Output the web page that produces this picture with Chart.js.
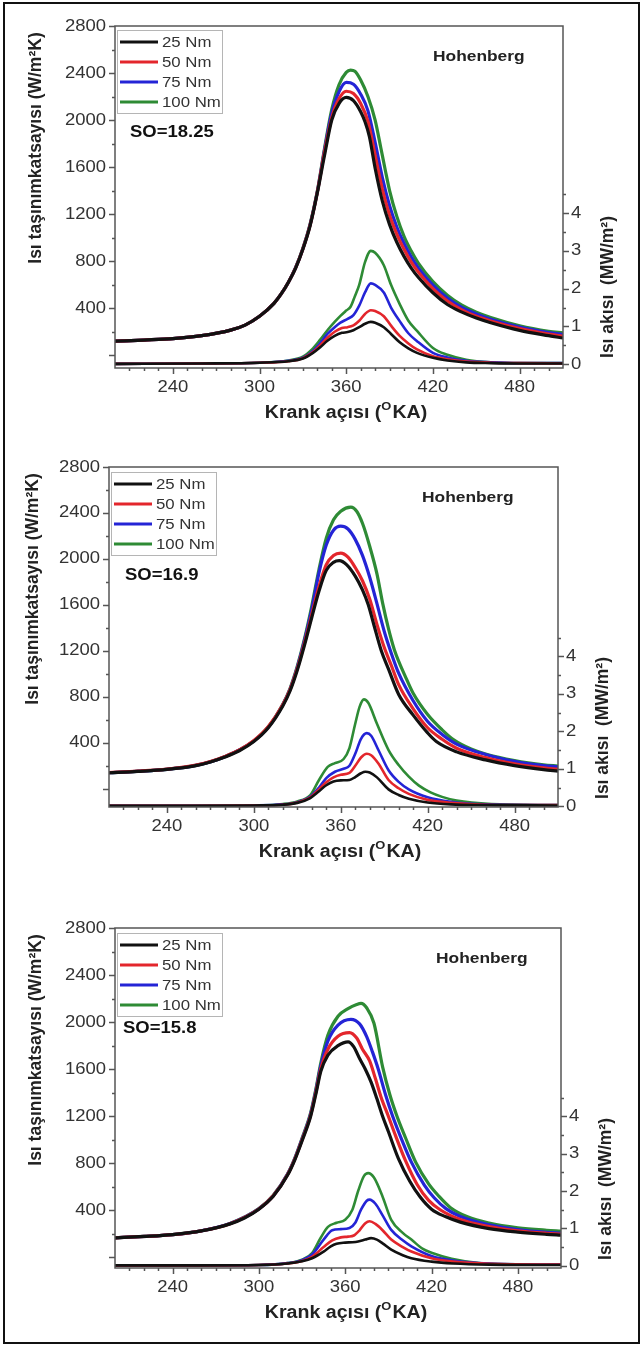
<!DOCTYPE html>
<html>
<head>
<meta charset="utf-8">
<script src="https://cdn.jsdelivr.net/npm/chart.js@4.4.0/dist/chart.umd.min.js"></script>
<style>
  body { margin: 0; background: #fff; }
  #page { position: relative; width: 642px; height: 1346px; }
  #frame { position: absolute; left: 3px; top: 2px; width: 633px; height: 1338px; border: 2px solid #111; }
  canvas { position: absolute; left: 0; }
</style>
</head>
<body>
<div id="page">
  <div id="frame"></div>
  <canvas id="c1" width="642" height="440" style="top:0px"></canvas>
  <canvas id="c2" width="642" height="440" style="top:440px"></canvas>
  <canvas id="c3" width="642" height="466" style="top:880px"></canvas>
</div>
<script>
// ---- data ----
const loads = ["25 Nm", "50 Nm", "75 Nm", "100 Nm"];
const colors = ["#111111", "#e3262c", "#2424d6", "#2e8b35"];
const xTicks = [240, 300, 360, 420, 480];
const leftTicks = [400, 800, 1200, 1600, 2000, 2400, 2800];
const rightTicks = [0, 1, 2, 3, 4];
const soLabels = ["SO=18.25", "SO=16.9", "SO=15.8"];

// SO=18.25 : heat transfer coefficient (W/m2K)
const h1_25 = [[200,118],[220,128],[240,140],[260,165],[280,212],[290,255],[300,330],[310,440],[315,520],[320,620],[325,740],[330,900],[335,1100],[340,1380],[345,1700],[350,2000],[355,2140],[360,2192],[365,2165],[370,2070],[373,1985],[376,1860],[380,1590],[385,1310],[390,1110],[395,960],[400,840],[405,740],[410,660],[420,530],[430,430],[440,365],[450,315],[460,275],[480,210],[500,165],[510,145]];
const h1_50 = [[200,118],[220,128],[240,140],[260,165],[280,212],[290,255],[300,330],[310,440],[315,520],[320,620],[325,742],[330,902],[335,1105],[340,1385],[345,1730],[350,2020],[355,2180],[360,2245],[365,2225],[370,2140],[375,1990],[380,1700],[385,1410],[390,1190],[395,1030],[400,900],[405,790],[410,705],[420,565],[430,460],[440,385],[450,330],[460,290],[480,225],[500,178],[510,160]];
const h1_75 = [[200,118],[220,128],[240,140],[260,165],[280,212],[290,255],[300,330],[310,440],[315,520],[320,620],[325,744],[330,905],[335,1110],[340,1390],[345,1745],[350,2060],[355,2240],[360,2320],[365,2305],[370,2220],[375,2080],[380,1810],[385,1510],[390,1270],[395,1090],[400,950],[405,835],[410,740],[420,595],[430,485],[440,405],[450,350],[460,305],[480,238],[500,192],[510,175]];
const h1_100 = [[200,118],[220,128],[240,140],[260,165],[280,212],[290,255],[300,330],[310,440],[315,520],[320,620],[325,746],[330,908],[335,1115],[340,1395],[345,1760],[350,2090],[355,2300],[360,2405],[363,2425],[366,2415],[370,2340],[375,2200],[380,2000],[384,1760],[387,1575],[390,1400],[395,1180],[400,1010],[405,885],[410,780],[420,625],[430,510],[440,425],[450,365],[460,320],[480,250],[500,203],[510,188]];
// SO=18.25 : heat flux (MW/m2)
const f1_25 = [[200,0.01],[260,0.02],[300,0.04],[320,0.08],[330,0.15],[337,0.3],[342,0.45],[347,0.62],[352,0.75],[357,0.83],[361,0.85],[365,0.9],[369,0.98],[373,1.07],[377,1.12],[380,1.1],[386,0.98],[391,0.8],[397,0.58],[403,0.42],[409,0.3],[420,0.17],[430,0.1],[443,0.05],[460,0.03],[480,0.02],[510,0.02]];
const f1_50 = [[200,0.01],[260,0.02],[300,0.04],[320,0.08],[330,0.16],[337,0.32],[342,0.5],[347,0.7],[352,0.86],[357,0.96],[361,0.98],[365,1.03],[369,1.15],[373,1.33],[377,1.43],[380,1.41],[386,1.27],[391,1.02],[397,0.75],[403,0.55],[409,0.39],[420,0.21],[430,0.13],[443,0.07],[460,0.04],[480,0.03],[510,0.02]];
const f1_75 = [[200,0.01],[260,0.02],[300,0.04],[320,0.09],[330,0.17],[337,0.35],[342,0.56],[347,0.8],[352,0.98],[356,1.1],[361,1.2],[365,1.3],[369,1.55],[373,1.9],[377,2.14],[380,2.1],[386,1.9],[391,1.5],[397,1.14],[403,0.82],[409,0.61],[420,0.3],[430,0.18],[443,0.09],[460,0.05],[480,0.03],[510,0.03]];
const f1_100 = [[200,0.01],[260,0.02],[300,0.04],[320,0.1],[330,0.2],[337,0.42],[342,0.65],[347,0.9],[352,1.12],[356,1.28],[360,1.42],[363,1.52],[366,1.8],[369,2.1],[373,2.7],[377,3.0],[380,2.95],[386,2.62],[391,2.1],[397,1.59],[403,1.15],[409,0.88],[420,0.43],[430,0.25],[443,0.12],[460,0.05],[480,0.03],[510,0.03]];

// SO=16.9
const h2_25 = [[200,138],[220,150],[240,167],[260,200],[270,232],[280,275],[290,330],[300,410],[310,530],[320,720],[325,850],[330,1030],[335,1250],[340,1490],[345,1720],[350,1900],[355,1970],[359,1985],[364,1950],[370,1850],[375,1730],[379,1600],[383,1420],[388,1200],[393,1040],[400,820],[410,640],[420,485],[426,410],[440,320],[460,250],[480,200],[500,165],[510,153]];
const h2_50 = [[200,140],[220,152],[240,170],[260,204],[270,236],[280,280],[290,336],[300,418],[310,540],[320,730],[325,862],[330,1045],[335,1270],[340,1515],[345,1760],[350,1950],[355,2030],[360,2050],[365,2015],[370,1925],[375,1810],[380,1650],[385,1430],[390,1230],[395,1070],[400,905],[410,695],[420,530],[430,430],[440,352],[460,270],[480,215],[500,180],[510,168]];
const h2_75 = [[200,138],[240,168],[260,202],[280,278],[300,415],[310,535],[320,730],[325,865],[330,1055],[335,1290],[340,1560],[345,1880],[350,2120],[355,2250],[360,2285],[365,2260],[370,2170],[375,2030],[380,1840],[385,1610],[390,1370],[395,1175],[400,1005],[410,765],[420,585],[430,472],[440,388],[460,297],[480,237],[500,200],[510,190]];
const h2_100 = [[200,138],[240,168],[260,202],[280,278],[300,415],[310,538],[320,735],[325,872],[330,1065],[335,1305],[340,1590],[345,1910],[350,2180],[355,2340],[360,2415],[367,2450],[371,2415],[375,2310],[380,2110],[385,1870],[389,1610],[393,1390],[397,1210],[405,965],[410,830],[420,645],[430,512],[438,425],[450,345],[460,302],[480,245],[500,208],[510,197]];
const f2_25 = [[200,0.01],[260,0.01],[300,0.02],[320,0.04],[330,0.09],[339,0.22],[345,0.4],[350,0.56],[355,0.66],[360,0.69],[366,0.7],[370,0.78],[374,0.88],[377,0.92],[380,0.9],[385,0.77],[393,0.45],[400,0.3],[407,0.2],[420,0.1],[436,0.05],[460,0.03],[510,0.02]];
const f2_50 = [[200,0.01],[260,0.01],[300,0.02],[320,0.04],[330,0.1],[339,0.24],[345,0.45],[350,0.64],[355,0.77],[360,0.84],[366,0.89],[370,1.08],[374,1.3],[378,1.4],[381,1.36],[386,1.14],[393,0.7],[400,0.48],[407,0.33],[420,0.17],[436,0.09],[460,0.04],[510,0.03]];
const f2_75 = [[200,0.01],[260,0.01],[300,0.02],[320,0.05],[330,0.11],[339,0.26],[345,0.5],[350,0.75],[356,0.92],[362,1.0],[366,1.08],[370,1.4],[374,1.8],[378,1.95],[381,1.88],[386,1.5],[393,0.96],[400,0.65],[407,0.45],[420,0.24],[436,0.12],[460,0.05],[510,0.03]];
const f2_100 = [[200,0.01],[260,0.01],[300,0.02],[320,0.06],[330,0.13],[339,0.3],[345,0.7],[351,1.05],[356,1.15],[362,1.26],[366,1.55],[370,2.2],[373,2.65],[376,2.85],[379,2.76],[385,2.2],[393,1.5],[400,1.1],[407,0.79],[414,0.55],[422,0.37],[430,0.25],[440,0.15],[464,0.06],[510,0.03]];

// SO=15.8
const h3_25 = [[200,166],[220,178],[240,194],[260,225],[280,285],[290,335],[300,410],[310,520],[320,700],[325,830],[330,990],[336,1200],[340,1410],[343,1580],[348,1720],[355,1800],[362,1832],[366,1790],[370,1690],[374,1600],[378,1490],[382,1350],[386,1200],[390,1070],[397,840],[405,645],[412,515],[420,410],[430,345],[440,300],[460,245],[480,215],[500,196],[510,189]];
const h3_50 = [[200,166],[240,194],[260,226],[280,287],[300,412],[310,523],[320,705],[325,836],[330,998],[336,1210],[340,1425],[343,1600],[348,1770],[355,1880],[363,1911],[368,1865],[372,1770],[377,1670],[381,1520],[385,1360],[390,1200],[395,1035],[402,820],[410,620],[418,485],[426,405],[440,322],[460,262],[480,226],[500,205],[510,198]];
const h3_75 = [[200,166],[240,194],[260,226],[280,288],[300,413],[310,525],[320,708],[325,840],[330,1005],[336,1220],[340,1440],[343,1625],[348,1840],[355,1975],[364,2024],[370,1985],[375,1875],[379,1745],[383,1600],[388,1385],[393,1200],[400,980],[406,810],[415,615],[422,505],[430,415],[440,348],[460,277],[480,237],[500,213],[510,206]];
const h3_100 = [[200,166],[240,194],[260,226],[280,289],[300,415],[310,528],[320,712],[325,845],[330,1012],[336,1230],[340,1455],[343,1650],[348,1890],[355,2050],[362,2115],[368,2150],[371,2159],[375,2120],[380,1990],[386,1620],[391,1385],[396,1200],[402,1015],[409,810],[418,625],[425,522],[433,425],[445,345],[460,292],[480,252],[500,231],[510,224]];
const f3_25 = [[200,0.01],[260,0.01],[300,0.02],[320,0.06],[330,0.12],[337,0.2],[345,0.38],[350,0.52],[354,0.59],[360,0.62],[365,0.63],[369,0.65],[374,0.7],[378,0.74],[382,0.7],[386,0.6],[392,0.43],[400,0.28],[406,0.2],[420,0.11],[435,0.06],[460,0.03],[510,0.02]];
const f3_50 = [[200,0.01],[260,0.01],[300,0.02],[320,0.06],[330,0.13],[337,0.24],[345,0.5],[351,0.68],[357,0.76],[362,0.78],[366,0.81],[370,0.95],[374,1.14],[377,1.19],[381,1.12],[386,0.95],[392,0.7],[400,0.5],[406,0.38],[420,0.2],[435,0.11],[460,0.05],[510,0.03]];
const f3_75 = [[200,0.01],[260,0.01],[300,0.02],[320,0.07],[330,0.15],[337,0.3],[345,0.7],[351,0.95],[357,0.98],[363,1.01],[367,1.15],[371,1.5],[375,1.74],[377,1.77],[381,1.66],[386,1.35],[392,0.96],[400,0.68],[406,0.52],[420,0.26],[435,0.14],[460,0.06],[510,0.03]];
const f3_100 = [[200,0.01],[260,0.01],[300,0.02],[320,0.07],[330,0.16],[337,0.34],[343,0.75],[348,1.04],[354,1.15],[360,1.23],[365,1.5],[369,2.0],[373,2.4],[376,2.48],[380,2.36],[386,1.85],[392,1.23],[400,0.88],[406,0.7],[414,0.45],[420,0.35],[434,0.19],[463,0.05],[510,0.03]];

// ---- drawing ----
const FONT = '"Liberation Sans", Arial, sans-serif';
const SX = 1.12; // the source figure is slightly stretched sideways

function put(ctx, s, x, y, size, bold, align, color, sx) {
  ctx.save();
  ctx.font = (bold ? "bold " : "") + size + "px " + FONT;
  ctx.fillStyle = color || "#222";
  ctx.textBaseline = "middle";
  ctx.textAlign = align || "left";
  ctx.translate(x, y);
  ctx.scale(sx || 1, 1);
  ctx.fillText(s, 0, 0);
  ctx.restore();
}

const axesPlugin = {
  id: "axesPlugin",
  afterDraw(chart, args, o) {
    const ctx = chart.ctx, a = chart.chartArea;
    const xs = chart.scales.x, yl = chart.scales.y, yr = chart.scales.y1;
    ctx.save();
    ctx.strokeStyle = "#555";
    ctx.lineWidth = 1.5;
    ctx.strokeRect(a.left, a.top, a.right - a.left, a.bottom - a.top);

    // ticks
    ctx.beginPath();
    for (let v = 210; v <= 500; v += 10) {
      const px = Math.round(xs.getPixelForValue(v)) + 0.5;
      ctx.moveTo(px, a.bottom);
      ctx.lineTo(px, a.bottom + (v % 60 === 0 ? 6 : 3));
    }
    for (let v = 0; v <= 2800; v += 200) {
      const py = Math.round(yl.getPixelForValue(v)) + 0.5;
      ctx.moveTo(a.left, py);
      ctx.lineTo(a.left - (v % 400 === 0 ? 6 : 3), py);
    }
    for (let v = 0; v <= 4.5; v += 0.5) {
      const py = Math.round(yr.getPixelForValue(v)) + 0.5;
      ctx.moveTo(a.right, py);
      ctx.lineTo(a.right + (v % 1 === 0 ? 6 : 3), py);
    }
    ctx.stroke();
    ctx.restore();

    xTicks.forEach(v => put(ctx, String(v), xs.getPixelForValue(v), a.bottom + 19, 16.5, false, "center", "#333", SX));
    leftTicks.forEach(v => put(ctx, String(v), a.left - 9, yl.getPixelForValue(v), 16.5, false, "right", "#333", SX));
    rightTicks.forEach(v => put(ctx, String(v), a.right + 8, yr.getPixelForValue(v), 16.5, false, "left", "#333", SX));

    // axis titles
    ctx.save();
    ctx.translate(o.leftTitleX, a.top + 122);
    ctx.rotate(-Math.PI / 2);
    put(ctx, "Isı taşınımkatsayısı (W/m²K)", 0, 0, 17.5, true, "center", "#222", 1);
    ctx.restore();
    ctx.save();
    ctx.translate(a.right + 45, a.top + 261);
    ctx.rotate(-Math.PI / 2);
    put(ctx, "Isı akısı  (MW/m²)", 0, 0, 17.5, true, "center", "#222", 1);
    ctx.restore();

    // x title with superscript O
    ctx.save();
    ctx.font = "bold 17.5px " + FONT;
    const p1 = "Krank açısı (", p3 = "KA)";
    const w1 = ctx.measureText(p1).width, w3 = ctx.measureText(p3).width;
    ctx.font = "bold 11.5px " + FONT;
    const w2 = ctx.measureText("O").width + 1;
    ctx.restore();
    const tw = (w1 + w2 + w3) * SX;
    const tx = a.left + 231 - tw / 2;
    const ty = a.bottom + 45;
    put(ctx, p1, tx, ty, 17.5, true, "left", "#222", SX);
    put(ctx, "O", tx + w1 * SX, ty - 6, 11.5, true, "left", "#222", SX);
    put(ctx, p3, tx + (w1 + w2) * SX, ty, 17.5, true, "left", "#222", SX);

    // legend
    const bx = a.left + 2, by = a.top + o.legendTop;
    ctx.save();
    ctx.fillStyle = "#fff";
    ctx.fillRect(bx, by, 105, 83);
    ctx.strokeStyle = "#b5b5b5";
    ctx.lineWidth = 1;
    ctx.strokeRect(bx + 0.5, by + 0.5, 105, 83);
    chart.data.datasets.slice(0, 4).forEach((ds, i) => {
      const ry = by + 12 + i * 20;
      ctx.strokeStyle = ds.borderColor;
      ctx.lineWidth = 3;
      ctx.beginPath();
      ctx.moveTo(bx + 3, ry);
      ctx.lineTo(bx + 41, ry);
      ctx.stroke();
      put(ctx, ds.label, bx + 45, ry + 1, 15, false, "left", "#333", SX);
    });
    ctx.restore();

    put(ctx, o.so, a.left + o.soDx, a.top + o.soDy, 16.5, true, "left", "#111", SX);
    put(ctx, "Hohenberg", a.left + o.hohDx, a.top + 31, 15.5, true, "left", "#222", SX);
  }
};

function makeChart(id, htc, flux, pad, yMin, y1Min, y1Max, extra) {
  const datasets = [];
  htc.forEach((d, i) => datasets.push({
    label: loads[i], data: d, yAxisID: "y", borderColor: colors[i],
    borderWidth: 3.2, order: i
  }));
  flux.forEach((d, i) => datasets.push({
    label: loads[i], data: d, yAxisID: "y1", borderColor: colors[i],
    borderWidth: 2.6, order: i
  }));
  return new Chart(document.getElementById(id), {
    type: "line",
    data: { datasets },
    options: {
      responsive: false,
      animation: false,
      devicePixelRatio: 1,
      layout: { padding: pad },
      elements: {
        point: { radius: 0 },
        line: { tension: 0.4, cubicInterpolationMode: "monotone", fill: false }
      },
      plugins: {
        legend: { display: false },
        tooltip: { enabled: false },
        axesPlugin: extra
      },
      scales: {
        x: { type: "linear", display: false, min: 200, max: 510 },
        y: { type: "linear", display: false, min: yMin, max: 2800 },
        y1: { type: "linear", display: false, min: y1Min, max: y1Max }
      }
    },
    plugins: [axesPlugin]
  });
}

makeChart("c1", [h1_25, h1_50, h1_75, h1_100], [f1_25, f1_50, f1_75, f1_100],
  { left: 115, right: 79, top: 26, bottom: 72 }, -110, -0.1, 8.95,
  { so: soLabels[0], soDx: 15, soDy: 106, hohDx: 318, legendTop: 4, leftTitleX: 36 });
makeChart("c2", [h2_25, h2_50, h2_75, h2_100], [f2_25, f2_50, f2_75, f2_100],
  { left: 109, right: 84, top: 27, bottom: 73 }, -160, -0.02, 9.05,
  { so: soLabels[1], soDx: 16, soDy: 108, hohDx: 313, legendTop: 5, leftTitleX: 33 });
makeChart("c3", [h3_25, h3_50, h3_75, h3_100], [f3_25, f3_50, f3_75, f3_100],
  { left: 115, right: 81, top: 48, bottom: 78 }, -90, -0.06, 9.04,
  { so: soLabels[2], soDx: 8, soDy: 100, hohDx: 321, legendTop: 5, leftTitleX: 36 });
</script>
</body>
</html>
